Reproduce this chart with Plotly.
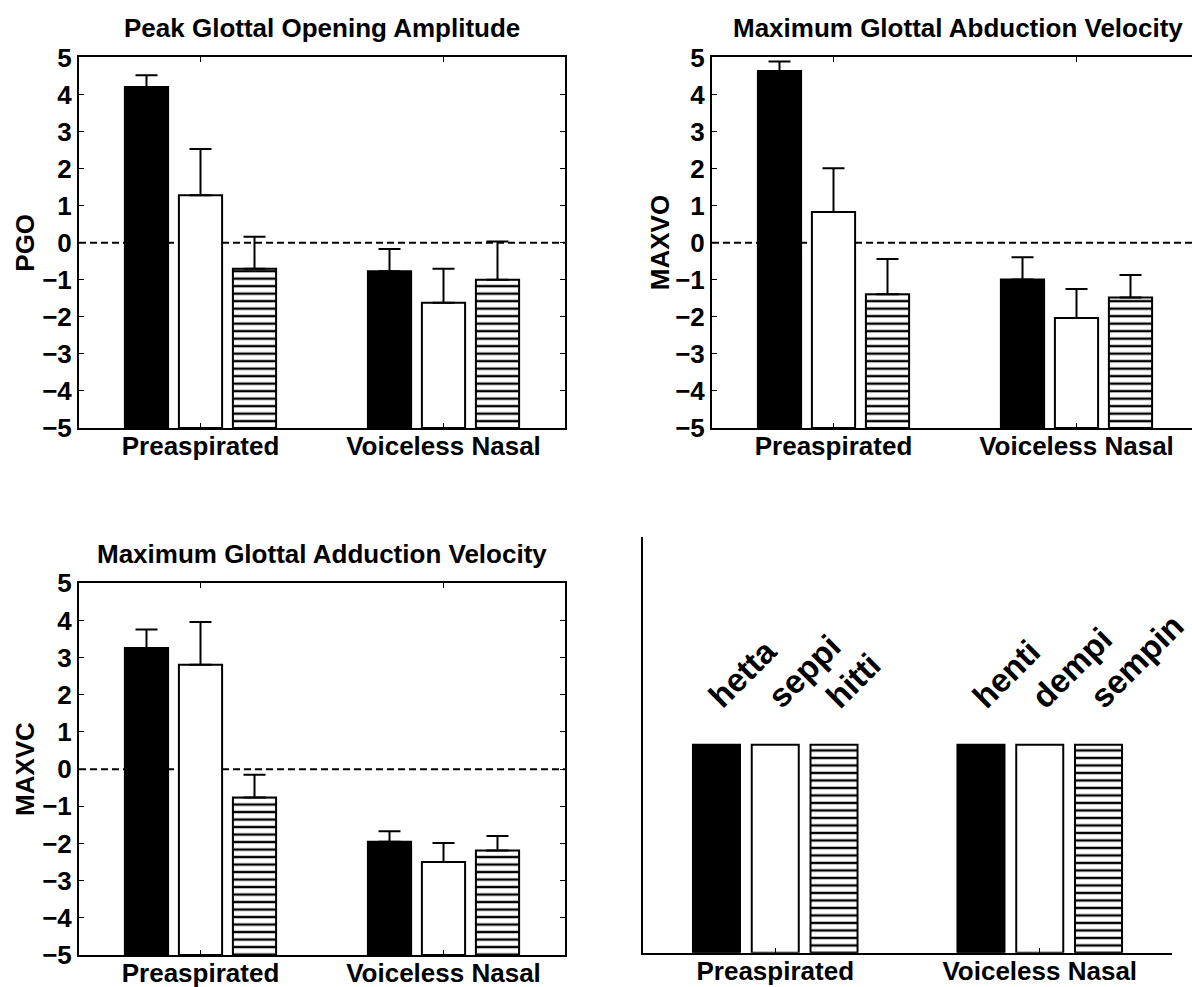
import plotly.graph_objects as go

W, H = 1192, 987

categories = ["Preaspirated", "Voiceless Nasal"]

# Means per series (solid / open / hatched) for each category, plus upper error
pgo_solid = [4.20, -0.77]
pgo_open = [1.28, -1.62]
pgo_hatched = [-0.70, -1.00]
pgo_solid_err = [0.32, 0.60]
pgo_open_err = [1.25, 0.92]
pgo_hatched_err = [0.86, 1.03]

maxvo_solid = [4.63, -0.99]
maxvo_open = [0.83, -2.03]
maxvo_hatched = [-1.39, -1.48]
maxvo_solid_err = [0.26, 0.60]
maxvo_open_err = [1.18, 0.78]
maxvo_hatched_err = [0.95, 0.61]

maxvc_solid = [3.26, -1.95]
maxvc_open = [2.81, -2.50]
maxvc_hatched = [-0.76, -2.19]
maxvc_solid_err = [0.50, 0.28]
maxvc_open_err = [1.15, 0.51]
maxvc_hatched_err = [0.61, 0.39]

# Key panel: one word per series in each category
preaspirated_words = ["hetta", "seppi", "hitti"]
voiceless_nasal_words = ["henti", "dempi", "sempin"]
key_heights = [1, 1, 1]

y_ticks = list(range(-5, 6))

FONT = "Liberation Sans, Arial, Helvetica, sans-serif"
FS = 26
BASE = -5
GROUP_W = 3 / 4.5
OFFSETS = [(k - 1) * GROUP_W / 3 for k in range(3)]
BAR_W = GROUP_W / 3 * 0.8

PATTERN = dict(shape="-", fgcolor="black", bgcolor="white", size=7.5,
               solidity=0.32)
STYLES = [
    dict(color="black"),
    dict(color="white"),
    dict(color="white", pattern=PATTERN),
]


def px_x(x):
    return x / W


def px_y(y):
    return 1 - y / H


def axis_ids(idx):
    suffix = "" if idx == 1 else str(idx)
    return "x" + suffix, "y" + suffix


fig = go.Figure()


def add_panel(idx, series, errors):
    xa, ya = axis_ids(idx)
    for k, (vals, errs) in enumerate(zip(series, errors)):
        xs = [g + 1 + OFFSETS[k] for g in range(len(vals))]
        fig.add_trace(go.Bar(
            x=xs, y=[v - BASE for v in vals], base=BASE, width=BAR_W,
            marker=dict(**STYLES[k], line=dict(color="black", width=2)),
            xaxis=xa, yaxis=ya, showlegend=False, hoverinfo="skip"))
        fig.add_trace(go.Scatter(
            x=xs, y=vals, mode="markers",
            marker=dict(size=1, color="rgba(0,0,0,0)"),
            error_y=dict(type="data", symmetric=False, array=errs,
                         arrayminus=[0] * len(errs), color="black",
                         thickness=2, width=11),
            xaxis=xa, yaxis=ya, showlegend=False, hoverinfo="skip"))
    fig.add_shape(type="line", xref=f"{xa} domain", yref=ya, x0=0, x1=1,
                  y0=0, y1=0, layer="below",
                  line=dict(color="black", width=2, dash="7px,4px"))


add_panel(1, [pgo_solid, pgo_open, pgo_hatched],
          [pgo_solid_err, pgo_open_err, pgo_hatched_err])
add_panel(2, [maxvo_solid, maxvo_open, maxvo_hatched],
          [maxvo_solid_err, maxvo_open_err, maxvo_hatched_err])
add_panel(3, [maxvc_solid, maxvc_open, maxvc_hatched],
          [maxvc_solid_err, maxvc_open_err, maxvc_hatched_err])

# Key panel bars
key_words = [preaspirated_words, voiceless_nasal_words]
for k in range(3):
    xs = [g + 1 + OFFSETS[k] for g in range(2)]
    fig.add_trace(go.Bar(
        x=xs, y=[key_heights[k]] * 2, width=BAR_W,
        marker=dict(**STYLES[k], line=dict(color="black", width=2)),
        xaxis="x4", yaxis="y4", showlegend=False, hoverinfo="skip"))

annotations = []
for g, words in enumerate(key_words):
    for k, word in enumerate(words):
        annotations.append(dict(
            x=g + 1 + OFFSETS[k], y=key_heights[k] + 0.13, xref="x4",
            yref="y4", text=word, showarrow=False, textangle=-45,
            xanchor="left", yanchor="bottom", xshift=-18,
            font=dict(family=FONT, size=33, color="black", weight="bold")))

tick_font = dict(family=FONT, size=FS, color="black", weight="bold")


def xaxis(dom, rng, mirror=True):
    return dict(domain=dom, range=rng, tickvals=[1, 2], ticktext=categories,
                ticks="inside", ticklen=5, tickcolor="black", tickwidth=1,
                showline=True, linecolor="black", linewidth=2,
                mirror="ticks" if mirror else False, showgrid=False,
                zeroline=False, tickfont=tick_font, fixedrange=True,
                automargin=False, ticklabelstandoff=-6)


def yaxis(dom, anchor, mirror=True):
    return dict(domain=dom, range=[-5, 5], tickvals=y_ticks,
                ticks="inside", ticklen=5, tickcolor="black", tickwidth=1,
                showline=True, linecolor="black", linewidth=2,
                mirror="ticks" if mirror else False, showgrid=False,
                zeroline=False, tickfont=tick_font, anchor=anchor,
                fixedrange=True, automargin=False)


top = [px_y(428), px_y(57.4)]
bottom = [px_y(955), px_y(583.3)]
left = [px_x(79), px_x(565)]
right_w = 486
right = [px_x(712), 1.0]
right_range = [0.5, 0.5 + 2 * (W - 712) / right_w]

layout_axes = dict(
    xaxis=dict(**xaxis(left, [0.5, 2.5]), anchor="y"),
    yaxis=yaxis(top, "x"),
    xaxis2=dict(**xaxis(right, right_range), anchor="y2"),
    yaxis2=yaxis(top, "x2", mirror=False),
    xaxis3=dict(**xaxis(left, [0.5, 2.5]), anchor="y3"),
    yaxis3=yaxis(bottom, "x3"),
    xaxis4=dict(**xaxis([px_x(643), px_x(1172)], [0.5, 2.5], mirror=False),
                anchor="y4"),
    yaxis4=dict(domain=[px_y(952.7), px_y(536.7)], range=[0, 2],
                showline=True, linecolor="black", linewidth=2, ticks="",
                showticklabels=False, showgrid=False, zeroline=False,
                anchor="x4", fixedrange=True, automargin=False),
)

title_font = dict(family=FONT, size=FS, color="black", weight="bold")


def label(text, x, y, angle=0):
    annotations.append(dict(
        x=px_x(x), y=px_y(y), xref="paper", yref="paper", text=text,
        showarrow=False, textangle=angle, xanchor="center",
        yanchor="middle", font=title_font))


label("Peak Glottal Opening Amplitude", 322, 28)
label("Maximum Glottal Abduction Velocity", 958, 28)
label("Maximum Glottal Adduction Velocity", 322, 554)
label("PGO", 25, 242.7, -90)
label("MAXVO", 659.5, 242.7, -90)
label("MAXVC", 25, 769, -90)

fig.update_layout(
    template="none",
    width=W, height=H, margin=dict(l=0, r=0, t=0, b=0, pad=0),
    paper_bgcolor="white", plot_bgcolor="white",
    barmode="overlay", annotations=annotations, showlegend=False,
    **layout_axes)

fig.write_html("out.html")
